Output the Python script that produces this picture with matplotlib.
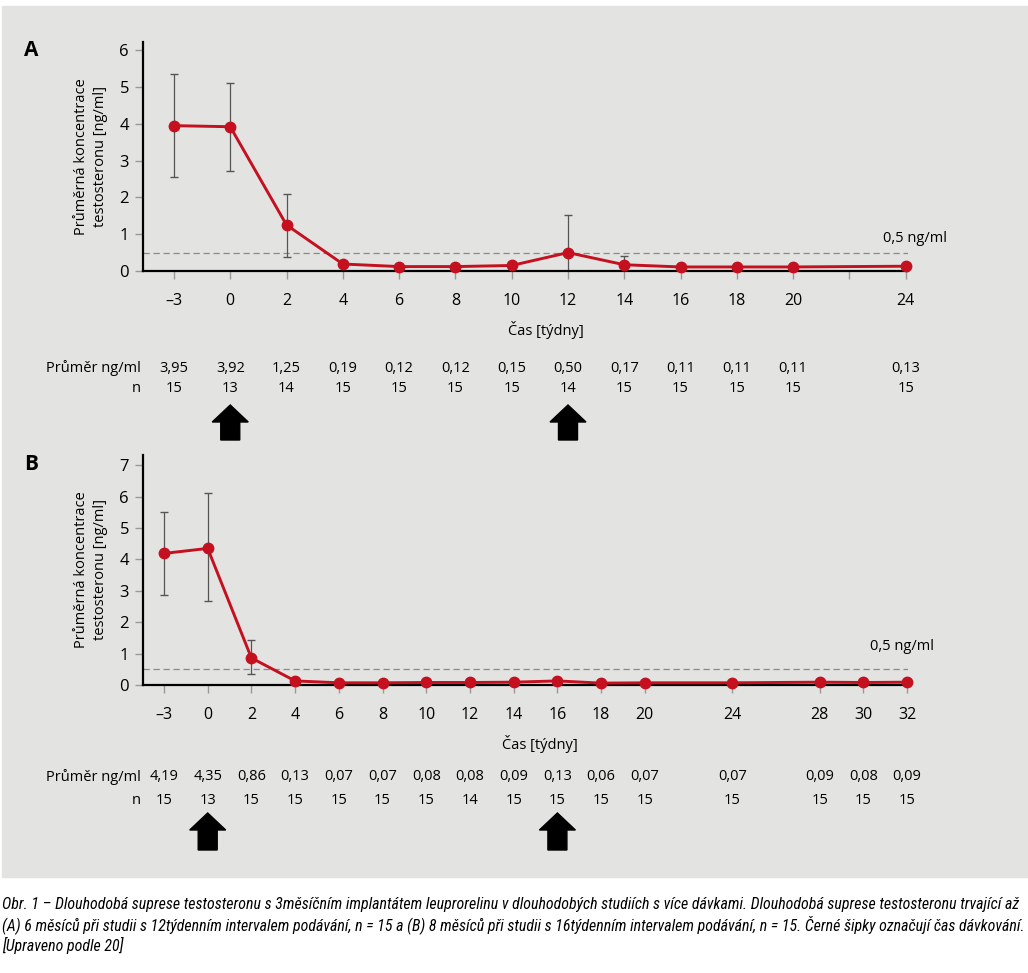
"""Testosterone suppression with leuprorelin 3-month implant, panels A and B."""

import matplotlib
matplotlib.use("Agg")

import matplotlib.pyplot as plt
from matplotlib import font_manager
from matplotlib.patches import FancyArrow, Rectangle
from matplotlib.transforms import blended_transform_factory

# ── data ─────────────────────────────────────────────────────────────────────

weeks_a = [-3, 0, 2, 4, 6, 8, 10, 12, 14, 16, 18, 20, 24]
mean_a = [3.95, 3.92, 1.25, 0.19, 0.12, 0.12, 0.15, 0.50, 0.17, 0.11, 0.11, 0.11, 0.13]
n_a = [15, 13, 14, 15, 15, 15, 15, 14, 15, 15, 15, 15, 15]
err_lo_a = [2.55, 2.72, 0.38, 0.19, 0.12, 0.05, 0.05, 0.0, 0.17, 0.11, 0.11, 0.11, 0.13]
err_hi_a = [5.35, 5.12, 2.08, 0.19, 0.12, 0.12, 0.25, 1.52, 0.42, 0.11, 0.11, 0.11, 0.13]
ticks_a = [-3, 0, 2, 4, 6, 8, 10, 12, 14, 16, 18, 20, 22, 24]
labels_a = ["\u20133", "0", "2", "4", "6", "8", "10", "12", "14", "16", "18", "20", "", "24"]
doses_a = [0, 12]

weeks_b = [-3, 0, 2, 4, 6, 8, 10, 12, 14, 16, 18, 20, 24, 28, 30, 32]
mean_b = [4.19, 4.35, 0.86, 0.13, 0.07, 0.07, 0.08, 0.08, 0.09, 0.13, 0.06, 0.07,
          0.07, 0.09, 0.08, 0.09]
n_b = [15, 13, 15, 15, 15, 15, 15, 14, 15, 15, 15, 15, 15, 15, 15, 15]
err_lo_b = [2.88, 2.67, 0.35] + mean_b[3:]
err_hi_b = [5.52, 6.10, 1.42] + mean_b[3:]
ticks_b = weeks_b
labels_b = ["\u20133"] + [str(w) for w in weeks_b[1:]]
doses_b = [0, 16]

threshold = 0.5
caption_lines = [
    "Obr. 1 \u2013 Dlouhodobá suprese testosteronu s 3měsíčním implantátem leuprorelinu "
    "v dlouhodobých studiích s více dávkami. Dlouhodobá suprese testosteronu trvající až",
    "(A) 6 měsíců při studii s 12týdenním intervalem podávání, n = 15 a (B) 8 měsíců při "
    "studii s 16týdenním intervalem podávání, n = 15. Černé šipky označují čas dávkování.",
    "[Upraveno podle 20]",
]

# ── style ────────────────────────────────────────────────────────────────────

RED = "#c5101f"
BG = "#e3e3e1"
GREY = "#8a8a8a"

_names = {f.name for f in font_manager.fontManager.ttflist}
plt.rcParams["font.family"] = ["Open Sans", "DejaVu Sans"]
CAP_FONT = next((f for f in ["Liberation Sans Narrow", "Roboto Condensed",
                             "Open Sans Condensed", "DejaVu Sans"] if f in _names),
                "DejaVu Sans")

W, H = 1028, 973
FS = 10.5


def pos(week):
    """Categorical spacing: -3 sits one step left of 0, then one step per 2 weeks."""
    return 0.0 if week == -3 else week / 2 + 1


def fy(ypix):
    return 1 - ypix / H


def panel(fig, top, bottom, ymax, weeks, mean, lo, hi, ticks, labels,
          n_vals, doses, letter, xpad, row_y, arrow_y, xlabel_xy, thr_xy):
    ax = fig.add_axes([143 / W, fy(bottom), 765 / W, (bottom - top) / H])
    ax.set_facecolor("none")
    x = [pos(w) for w in weeks]
    ax.errorbar(x, mean, yerr=[[m - l for m, l in zip(mean, lo)],
                               [h - m for m, h in zip(mean, hi)]],
                fmt="none", ecolor="#555555", elinewidth=0.9, capsize=3,
                capthick=1.0, zorder=2)
    ax.plot(x, mean, "-o", color=RED, lw=2.1, ms=7.5, zorder=3, clip_on=False)
    ax.axhline(threshold, color=GREY, lw=0.9, ls=(0, (5, 3)), zorder=1)
    fig.text(thr_xy[0] / W, fy(thr_xy[1]), "0,5 ng/ml", ha="center", va="center",
             fontsize=FS)

    xpos_ticks = [pos(t) for t in ticks]
    ax.set_xticks(xpos_ticks)
    ax.set_xticklabels(labels)
    ax.set_xlim(xpad[0], xpos_ticks[-1] + xpad[1])
    ax.set_ylim(0, ymax)
    ax.set_yticks(range(0, int(ymax) + 1))
    for side in ("top", "right"):
        ax.spines[side].set_visible(False)
    for side in ("left", "bottom"):
        ax.spines[side].set_linewidth(1.6)
    ax.tick_params(direction="out", length=6, width=1.0, color="#999999")
    ax.tick_params(axis="x", labelsize=11.5, pad=10)
    ax.tick_params(axis="y", labelsize=12, pad=4)
    ax.set_ylabel("Průměrná koncentrace\ntestosteronu [ng/ml]", fontsize=FS,
                  labelpad=8, linespacing=1.4)

    fig.text(xlabel_xy[0] / W, fy(xlabel_xy[1]), "Čas [týdny]",
             ha="center", va="center", fontsize=FS)
    tr = blended_transform_factory(ax.transData, fig.transFigure)
    fig.text(141 / W, fy(row_y[0]), "Průměr ng/ml", ha="right", va="center", fontsize=FS)
    fig.text(141 / W, fy(row_y[1]), "n", ha="right", va="center", fontsize=FS)
    for xi, m, n in zip(x, mean, n_vals):
        ax.text(xi, fy(row_y[0]), f"{m:.2f}".replace(".", ","), transform=tr,
                ha="center", va="center", fontsize=FS)
        ax.text(xi, fy(row_y[1]), str(n), transform=tr,
                ha="center", va="center", fontsize=FS)

    # dosing arrows
    for d in doses:
        xd = ax.transData.transform((pos(d), 0))[0] / W
        fig.patches.append(FancyArrow(
            xd, fy(arrow_y[1]), 0, (arrow_y[1] - arrow_y[0]) / H,
            width=19 / W, head_width=36 / W, head_length=17 / H,
            length_includes_head=True, color="black", transform=fig.transFigure,
            figure=fig))

    fig.text(24 / W, fy(top + 9), letter, fontsize=15, fontweight="bold",
             ha="left", va="center")
    return ax


fig = plt.figure(figsize=(W / 100, H / 100), dpi=100)
fig.patches.append(Rectangle((2 / W, fy(877)), 1, (877 - 6) / H, color=BG,
                             transform=fig.transFigure, figure=fig, zorder=-5))

panel(fig, 42, 271, 229 / 36.8, weeks_a, mean_a, err_lo_a, err_hi_a,
      ticks_a, labels_a, n_a, doses_a, "A", (-0.55, 0.04), (368, 389), (405, 440),
      (546, 330), (915, 238))
panel(fig, 455, 685, 230 / 31.4, weeks_b, mean_b, err_lo_b, err_hi_b,
      ticks_b, labels_b, n_b, doses_b, "B", (-0.48, 0.02), (777, 800), (813, 850),
      (540, 744), (902, 647))

# caption: scale the font so the longest line spans the figure width
renderer = fig.canvas.get_renderer()
cap_texts = []
for i, line in enumerate(caption_lines):
    cap_texts.append(fig.text(2 / W, fy(904 + 20.5 * i), line, ha="left", va="center",
                              fontsize=10.5, family=CAP_FONT, style="italic",
                              fontstretch="condensed"))
widest = max(t.get_window_extent(renderer).width for t in cap_texts)
cap_size = 10.5 * 1022 / widest
for t in cap_texts:
    t.set_fontsize(cap_size)

fig.savefig("out.png", dpi=100)
